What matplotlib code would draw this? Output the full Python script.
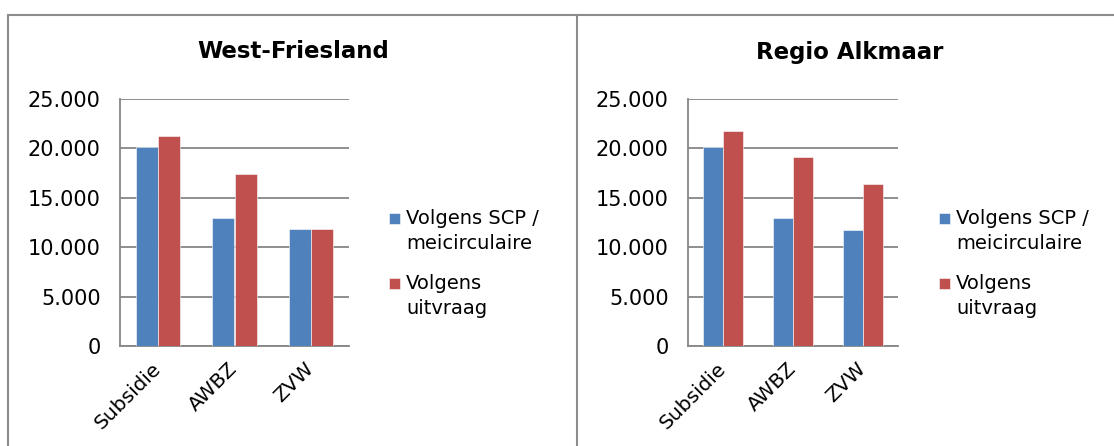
import numpy as np
import matplotlib
matplotlib.use("Agg")
import matplotlib.pyplot as plt
from matplotlib.ticker import FuncFormatter
from matplotlib.lines import Line2D
from matplotlib.patches import Rectangle
from matplotlib.container import BarContainer
from matplotlib.legend_handler import HandlerPatch, update_from_first_child

# data
categories = ["Subsidie", "AWBZ", "ZVW"]
series_names = ["Volgens SCP /\nmeicirculaire", "Volgens\nuitvraag"]
wf_scp = [20100, 13000, 11800]
wf_uitvraag = [21250, 17450, 11800]
ra_scp = [20100, 13000, 11750]
ra_uitvraag = [21800, 19100, 16400]
titles = ["West-Friesland", "Regio Alkmaar"]
yticks = [0, 5000, 10000, 15000, 20000, 25000]

blue = "#4F81BD"
red = "#C0504D"
grid_col = "#868686"

plt.rcParams["font.family"] = ["DejaVu Sans"]

W, H = 1114, 446
fig = plt.figure(figsize=(W / 100, H / 100), dpi=100)

panels = [
    (titles[0], wf_scp, wf_uitvraag, 120, 349, 293, 389),
    (titles[1], ra_scp, ra_uitvraag, 688, 898, 850, 939),
]

fmt = FuncFormatter(lambda v, p: f"{int(v):,}".replace(",", "."))

SQ = 8  # legend square size in points


def top_square(legend, orig_handle, xdescent, ydescent, width, height, fontsize):
    # small square next to the first line of a two-line label
    return Rectangle((-xdescent, -ydescent + height - SQ / 2), SQ, SQ)


handler = HandlerPatch(patch_func=top_square, update_func=update_from_first_child)

for title, scp, uit, x0, x1, tx, lx in panels:
    ax = fig.add_axes([x0 / W, (H - 346) / H, (x1 - x0) / W, 247 / H])
    x = np.arange(len(categories))
    bw = 0.29
    ax.bar(x - bw / 2, scp, bw, color=blue, edgecolor="white", linewidth=0.4,
           label=series_names[0], zorder=3)
    ax.bar(x + bw / 2, uit, bw, color=red, edgecolor="white", linewidth=0.4,
           label=series_names[1], zorder=3)
    ax.set_xlim(-0.5, len(categories) - 0.5)
    ax.set_ylim(0, 25000)
    ax.set_yticks(yticks)
    ax.yaxis.set_major_formatter(fmt)
    ax.grid(axis="y", color=grid_col, linewidth=1.3, zorder=0)
    for s in ["top", "right"]:
        ax.spines[s].set_visible(False)
    for s in ["left", "bottom"]:
        ax.spines[s].set_color(grid_col)
        ax.spines[s].set_linewidth(1.3)
    ax.tick_params(axis="y", length=0, labelsize=15, pad=14)
    ax.set_xticks(x)
    ax.set_xticklabels(categories, rotation=45, ha="right", va="center",
                       rotation_mode="anchor")
    ax.tick_params(axis="x", length=0, labelsize=14.5, pad=14)
    leg = ax.legend(loc="upper left",
                    bbox_to_anchor=(lx / W, 1 - 209 / H),
                    bbox_transform=fig.transFigure, frameon=False,
                    fontsize=14, handlelength=SQ / 14, handleheight=1.86,
                    handletextpad=0.3, labelspacing=1.1, borderaxespad=0,
                    borderpad=0,
                    handler_map={BarContainer: handler})
    for t in leg.get_texts():
        t.set_linespacing(1.4)
    fig.text(tx / W, 1 - 52 / H, title, ha="center", va="center",
             fontsize=16.5, fontweight="bold")

# panel frames
fig.add_artist(Line2D([8 / W, 1.0], [1 - 15 / H] * 2, color="#8c8c8c", lw=1.5))
fig.add_artist(Line2D([8 / W] * 2, [0, 1 - 15 / H], color="#8c8c8c", lw=1.5))
fig.add_artist(Line2D([577 / W] * 2, [0, 1 - 15 / H], color="#8c8c8c", lw=1.5))

fig.savefig("out.png", dpi=100)
